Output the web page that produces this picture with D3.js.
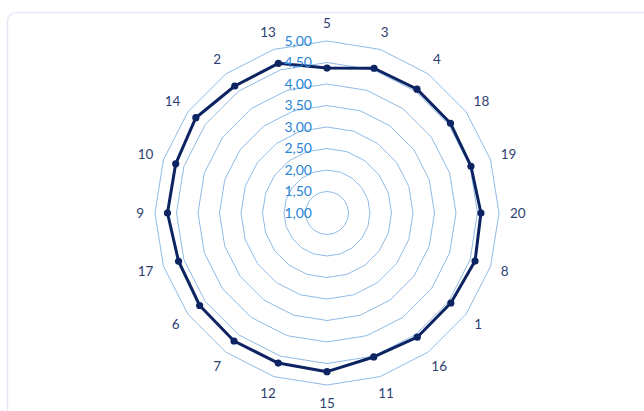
<!DOCTYPE html>
<html>
<head>
<meta charset="utf-8">
<script src="https://cdn.jsdelivr.net/npm/d3@7/dist/d3.min.js"></script>
<style>
  html, body { margin: 0; padding: 0; background: #ffffff; }
  svg { display: block; }
</style>
</head>
<body>
<svg id="chart" width="644" height="411"></svg>
<script>
// Categories, clockwise from the top
const categories = ["5", "3", "4", "18", "19", "20", "8", "1", "16", "11",
                    "15", "12", "7", "6", "17", "9", "10", "14", "2", "13"];
// Average score per category
const values = [4.37, 4.54, 4.56, 4.55, 4.52, 4.58, 4.62, 4.56, 4.57, 4.52,
                4.69, 4.67, 4.68, 4.66, 4.63, 4.71, 4.70, 4.77, 4.65, 4.66];
// Radial axis ticks
const ticks = [1.0, 1.5, 2.0, 2.5, 3.0, 3.5, 4.0, 4.5, 5.0];
const tickLabels = ["1,00", "1,50", "2,00", "2,50", "3,00", "3,50", "4,00", "4,50", "5,00"];

const width = 644, height = 411;
const cx = 327, cy = 213, outer = 172;

const svg = d3.select("#chart");

// Card frame
svg.append("rect")
  .attr("x", 7.5).attr("y", 12.5)
  .attr("width", 648).attr("height", 420)
  .attr("rx", 9).attr("ry", 9)
  .attr("fill", "#ffffff")
  .attr("stroke", "#e1eaf5")
  .attr("stroke-width", 1.5);

const r = d3.scaleLinear().domain([1, 5]).range([0, outer]);
const angle = d3.scalePoint().domain(categories).range([0, 2 * Math.PI * (1 - 1 / categories.length)]);

const g = svg.append("g").attr("transform", `translate(${cx},${cy})`);

// Gridline polygons
const ringLine = d3.lineRadial().curve(d3.curveLinearClosed);
g.selectAll("path.ring")
  .data(ticks.slice(1))
  .join("path")
  .attr("class", "ring")
  .attr("d", t => ringLine(categories.map(c => [angle(c), r(t)])))
  .attr("fill", "none")
  .attr("stroke", "#8fbbe6")
  .attr("stroke-width", 1);

// Series line
const seriesLine = d3.lineRadial()
  .angle((d, i) => angle(categories[i]))
  .radius(d => r(d))
  .curve(d3.curveLinearClosed);

g.append("path")
  .datum(values)
  .attr("d", seriesLine)
  .attr("fill", "none")
  .attr("stroke", "#0c2461")
  .attr("stroke-width", 3)
  .attr("stroke-linejoin", "round");

g.selectAll("circle.pt")
  .data(values)
  .join("circle")
  .attr("class", "pt")
  .attr("cx", (d, i) => r(d) * Math.sin(angle(categories[i])))
  .attr("cy", (d, i) => -r(d) * Math.cos(angle(categories[i])))
  .attr("r", 3.6)
  .attr("fill", "#0c2461");

// Radial tick labels
g.selectAll("text.tick")
  .data(ticks)
  .join("text")
  .attr("class", "tick")
  .attr("x", -15)
  .attr("y", t => -r(t))
  .attr("dy", "0.35em")
  .attr("text-anchor", "end")
  .attr("font-family", "Lato, 'Open Sans', sans-serif")
  .attr("font-size", 14)
  .attr("fill", "#2a86d6")
  .text((t, i) => tickLabels[i]);

// Category labels, set just outside the outer ring
const labelR = outer + 11;
g.selectAll("text.cat")
  .data(categories)
  .join("text")
  .attr("class", "cat")
  .attr("font-family", "Lato, 'Open Sans', sans-serif")
  .attr("font-size", 13.5)
  .attr("fill", "#2e3f72")
  .attr("text-anchor", "middle")
  .attr("dy", "0.35em")
  .text(c => c)
  .each(function (c) {
    const a = angle(c);
    const s = Math.sin(a), k = Math.cos(a);
    const half = this.getComputedTextLength() / 2;
    d3.select(this)
      .attr("x", labelR * s + s * half)
      .attr("y", -labelR * k - k * 7);
  });
</script>
</body>
</html>
